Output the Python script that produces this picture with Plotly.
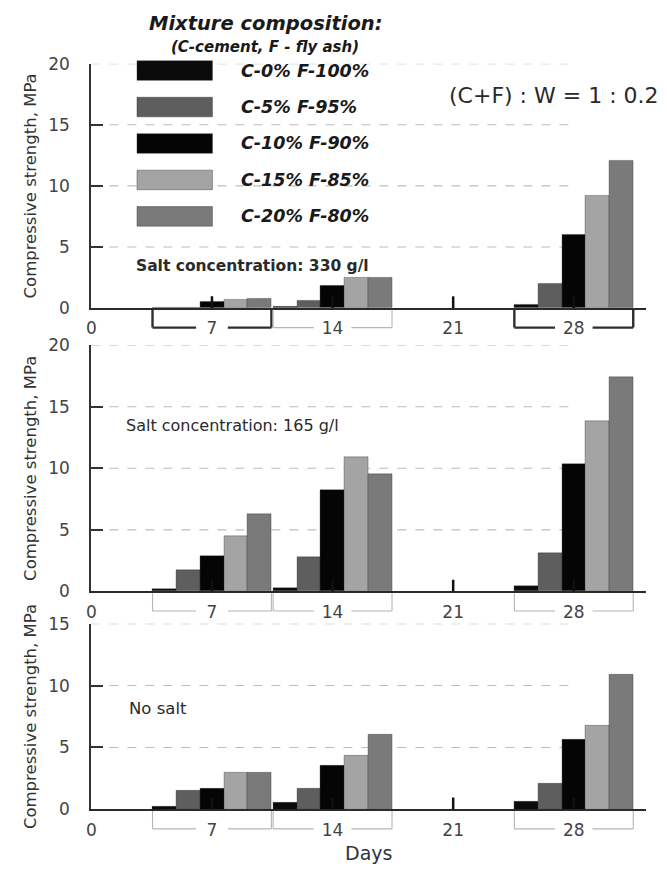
import plotly.graph_objects as go

FIG_W, FIG_H = 667, 876
FONT = "DejaVu Sans, Liberation Sans, Arial, sans-serif"

# ---- data -------------------------------------------------------------
days = [7, 14, 28]
day_ticks = [0, 7, 14, 21, 28]
mixtures = ["C-0% F-100%", "C-5% F-95%", "C-10% F-90%", "C-15% F-85%", "C-20% F-80%"]
mix_colors = ["#0b0b0b", "#5e5e5e", "#050505", "#a4a4a4", "#7a7a7a"]

# compressive strength, MPa (one row per mixture, columns = 7, 14, 28 days)
salt_330 = [
    [0.0, 0.1, 0.3],
    [0.0, 0.6, 2.0],
    [0.5, 1.8, 6.0],
    [0.7, 2.5, 9.2],
    [0.8, 2.5, 12.1],
]
salt_165 = [
    [0.2, 0.25, 0.45],
    [1.7, 2.8, 3.1],
    [2.9, 8.2, 10.3],
    [4.5, 10.9, 13.8],
    [6.3, 9.5, 17.4],
]
no_salt = [
    [0.2, 0.5, 0.6],
    [1.5, 1.65, 2.05],
    [1.7, 3.55, 5.6],
    [2.95, 4.3, 6.8],
    [3.0, 6.05, 10.9],
]

# ---- layout helpers ---------------------------------------------------
BAR_W = 1.38             # bar width in days
X_RANGE = [0, 32.2]
X_PX = (87, 646)         # left / right edge of plot area, px
GRID_END = 0.864         # dashed grid stops before the right edge (x domain)
TICK_PX = 12             # upward x tick length, px


def py(p):
    """pixel row -> paper y"""
    return 1 - p / FIG_H


def px(p):
    return p / FIG_W


panels = [
    dict(vals=salt_330, ymax=20, top=55, bot=305,
         note="<b>Salt concentration: 330 g/l</b>", note_xy=(130, 262), note_size=15.5,
         bold_groups={7, 28}),
    dict(vals=salt_165, ymax=20, top=343, bot=595,
         note="Salt concentration: 165 g/l", note_xy=(120, 425), note_size=16,
         bold_groups=set()),
    dict(vals=no_salt, ymax=15, top=628, bot=818,
         note="No salt", note_xy=(123, 715), note_size=16.5,
         bold_groups=set()),
]

fig = go.Figure()
shapes = []
annotations = []
layout_axes = {}

for k, p in enumerate(panels, start=1):
    xa = "x" if k == 1 else f"x{k}"
    ya = "y" if k == 1 else f"y{k}"
    xkey = "xaxis" if k == 1 else f"xaxis{k}"
    ykey = "yaxis" if k == 1 else f"yaxis{k}"

    for i, name in enumerate(mixtures):
        fig.add_trace(go.Bar(
            x=days, y=p["vals"][i], name=name,
            width=BAR_W, offset=(i - 2.5) * BAR_W,
            marker=dict(color=mix_colors[i],
                        line=dict(color="rgba(40,40,40,0.55)", width=0.6)),
            xaxis=xa, yaxis=ya, showlegend=False,
        ))

    # short upward ticks on the day axis
    tick_h = TICK_PX * p["ymax"] / (p["bot"] - p["top"])
    tx, ty = [], []
    for d in day_ticks[1:]:
        tx += [d, d, None]
        ty += [0, tick_h, None]
    fig.add_trace(go.Scatter(x=tx, y=ty, mode="lines", xaxis=xa, yaxis=ya,
                             line=dict(color="#111111", width=2.5),
                             cliponaxis=False,
                             hoverinfo="skip", showlegend=False))

    ytickvals = list(range(0, p["ymax"] + 1, 5))
    layout_axes[xkey] = dict(
        domain=[px(X_PX[0]), px(X_PX[1])], range=X_RANGE, anchor=ya,
        tickmode="array", tickvals=day_ticks, ticktext=[str(d) for d in day_ticks],
        ticks="",
        showline=True, linecolor="#2a2a2a", linewidth=1.6,
        showgrid=False, zeroline=False, layer="below traces",
        tickfont=dict(family=FONT, size=17, color="#444"),
        ticklabelstandoff=4,
    )
    layout_axes[ykey] = dict(
        domain=[py(p["bot"]), py(p["top"])], range=[0, p["ymax"]], anchor=xa,
        tickmode="array", tickvals=ytickvals,
        ticks="inside", ticklen=12, tickwidth=2, tickcolor="#333",
        showline=True, linecolor="#333", linewidth=2,
        showgrid=False, zeroline=False,
        tickfont=dict(family=FONT, size=17, color="#444"),
        ticklabelstandoff=16,
        title=dict(text="Compressive strength, MPa", standoff=8,
                   font=dict(family=FONT, size=16.5, color="#333")),
    )

    # dashed horizontal guides
    for v in ytickvals[1:]:
        shapes.append(dict(type="line", xref=f"{xa} domain", yref=ya,
                           x0=0, x1=GRID_END, y0=v, y1=v, layer="below",
                           line=dict(color="#bdbdbd", width=1.1, dash="dash")))

    # brackets grouping the bars of each age
    y_axis = py(p["bot"])
    y_lab = py(p["bot"] + 20)
    for d in days:
        lab = str(d)
        left, right = d - 2.5 * BAR_W, d + 2.5 * BAR_W
        gap = 0.75 + 0.17 * len(lab)
        if d in p["bold_groups"]:
            ln = dict(color="#2e2e2e", width=2.4)
        else:
            ln = dict(color="#b5b5b5", width=1.1)
        shapes += [
            dict(type="line", xref=xa, yref="paper", x0=left, x1=left,
                 y0=y_axis - 0.002, y1=y_lab, line=ln),
            dict(type="line", xref=xa, yref="paper", x0=right, x1=right,
                 y0=y_axis - 0.002, y1=y_lab, line=ln),
            dict(type="line", xref=xa, yref="paper", x0=left, x1=d - gap,
                 y0=y_lab, y1=y_lab, line=ln),
            dict(type="line", xref=xa, yref="paper", x0=d + gap, x1=right,
                 y0=y_lab, y1=y_lab, line=ln),
        ]

    nx, ny = p["note_xy"]
    annotations.append(dict(text=p["note"], xref="paper", yref="paper",
                            x=px(nx), y=py(ny), xanchor="left", yanchor="middle",
                            showarrow=False,
                            font=dict(family=FONT, size=p["note_size"], color="#2a2a2a")))

layout_axes["xaxis3"]["title"] = dict(text="Days", standoff=8,
                                      font=dict(family=FONT, size=19, color="#333"))

# ---- legend (drawn by hand with wide swatches) ------------------------
annotations += [
    dict(text="<b><i>Mixture composition:</i></b>", xref="paper", yref="paper",
         x=px(263), y=py(14), xanchor="center", yanchor="middle", showarrow=False,
         font=dict(family=FONT, size=19.5, color="#1a1a1a")),
    dict(text="<b><i>(C-cement, F - fly ash)</i></b>", xref="paper", yref="paper",
         x=px(262), y=py(38), xanchor="center", yanchor="middle", showarrow=False,
         font=dict(family=FONT, size=15, color="#1a1a1a")),
    dict(text="(C+F) : W = 1 : 0.2", xref="paper", yref="paper",
         x=px(553), y=py(88), xanchor="center", yanchor="middle", showarrow=False,
         font=dict(family=FONT, size=22, color="#2a2a2a")),
]
for i, name in enumerate(mixtures):
    cy = 62 + i * 37.3
    shapes.append(dict(type="rect", xref="paper", yref="paper",
                       x0=px(133), x1=px(209), y0=py(cy + 10), y1=py(cy - 10),
                       fillcolor=mix_colors[i],
                       line=dict(color="rgba(40,40,40,0.5)", width=0.8)))
    annotations.append(dict(text=f"<b><i>{name}</i></b>", xref="paper", yref="paper",
                            x=px(236), y=py(cy), xanchor="left", yanchor="middle",
                            showarrow=False,
                            font=dict(family=FONT, size=17.5, color="#1a1a1a")))

fig.update_layout(
    width=FIG_W, height=FIG_H,
    margin=dict(l=0, r=0, t=0, b=0),
    paper_bgcolor="white", plot_bgcolor="rgba(0,0,0,0)",
    barmode="overlay", bargap=0,
    shapes=shapes, annotations=annotations,
    **layout_axes,
)

fig.write_html("out.html")
